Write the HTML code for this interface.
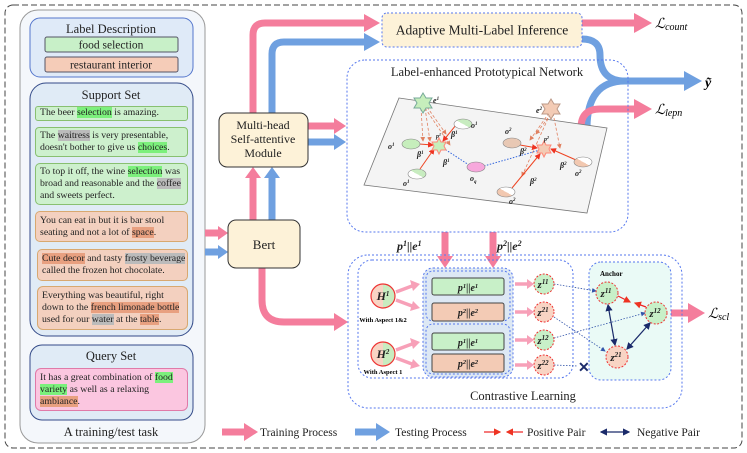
<!DOCTYPE html>
<html><head><meta charset="utf-8"><style>
body{margin:0;background:#fff;font-family:"Liberation Serif","DejaVu Serif",serif;}
svg{display:block;}
svg text{font-family:"Liberation Serif","DejaVu Serif",serif;}
.t{fill:#222}
.m{font-style:italic;font-weight:bold;fill:#222}
.sb{position:absolute;box-sizing:border-box;font-family:"Liberation Serif","DejaVu Serif",serif;font-size:9.8px;line-height:12px;color:#222;padding:1px 4px;white-space:nowrap;border:1px solid;overflow:hidden;}
.g{background:#cdf0cd;border-color:#88c070;}
.o{background:#f3d0bf;border-color:#d8a870;}
.q{background:#fbc6e0;border-color:#e07aa8;}
.hg{background:#7cf07c}.hx{background:#bbb}.ho{background:#e8a080}
</style></head><body>
<div style="position:relative;width:747px;height:453px;">
<svg width="747" height="453" viewBox="0 0 747 453" xmlns="http://www.w3.org/2000/svg" style="position:absolute;left:0;top:0">
<defs>
<marker id="ar" markerWidth="6" markerHeight="6" refX="5" refY="3" orient="auto"><path d="M0,0 L6,3 L0,6z" fill="#ee3322"/></marker>
<marker id="ao" markerWidth="6" markerHeight="6" refX="5" refY="3" orient="auto"><path d="M0,0 L6,3 L0,6z" fill="#e08060"/></marker>
<marker id="an" markerWidth="6" markerHeight="6" refX="5" refY="3" orient="auto"><path d="M0,0 L6,3 L0,6z" fill="#1a2a6a"/></marker>
<marker id="anb" markerWidth="6" markerHeight="6" refX="1" refY="3" orient="auto"><path d="M6,0 L0,3 L6,6z" fill="#1a2a6a"/></marker>
<marker id="ab" markerWidth="6" markerHeight="6" refX="5" refY="3" orient="auto"><path d="M0,0 L6,3 L0,6z" fill="#3355aa"/></marker>
<linearGradient id="gw" x1="0" x2="1" y1="1" y2="0"><stop offset="0.5" stop-color="#fff"/><stop offset="0.5" stop-color="#c8ecc0"/></linearGradient>
<linearGradient id="pw" x1="0" x2="1" y1="1" y2="0"><stop offset="0.5" stop-color="#f2c8b0"/><stop offset="0.5" stop-color="#fff"/></linearGradient>
<linearGradient id="hg" x1="0" x2="1"><stop offset="0.5" stop-color="#f8d4c4"/><stop offset="0.5" stop-color="#c8ecc0"/></linearGradient>
</defs>
<rect x="5" y="5" width="737" height="443" rx="8" fill="none" stroke="#444" stroke-dasharray="6,3"/>
<rect x="20" y="10" width="185" height="433" rx="18" fill="#f4f7fb" stroke="#999"/>
<rect x="30" y="18" width="163" height="59" rx="10" fill="#dfeaf8" stroke="#5577cc"/>
<text x="111" y="33" class="t" text-anchor="middle" font-size="12.5">Label Description</text>
<rect x="45" y="37" width="133" height="15" rx="2" fill="#c8f0c8" stroke="#556"/>
<text x="111" y="48.5" class="t" text-anchor="middle" font-size="11.5">food selection</text>
<rect x="45" y="57" width="133" height="15" rx="2" fill="#f5ccb8" stroke="#556"/>
<text x="111" y="68.5" class="t" text-anchor="middle" font-size="11.5">restaurant interior</text>
<rect x="30" y="83" width="163" height="253" rx="16" fill="#e0ebf6" stroke="#334a88"/>
<text x="111" y="99" class="t" text-anchor="middle" font-size="12.5">Support Set</text>
<rect x="30" y="345" width="163" height="75" rx="12" fill="#e0ebf6" stroke="#334a88"/>
<text x="111" y="360" class="t" text-anchor="middle" font-size="12.5">Query Set</text>
<text x="111" y="436" class="t" text-anchor="middle" font-size="12.5">A training/test task</text>

<g fill="none" stroke-width="7">
<path d="M205,233 H220" stroke="#f47d9c"/><path d="M205,252 H220" stroke="#6fa0e0"/>
<path d="M253,220 V176" stroke="#f47d9c"/><path d="M272,220 V176" stroke="#6fa0e0"/>
<path d="M253,113 V35 Q253,23 265,23 H366" stroke="#f47d9c"/>
<path d="M272,113 V54 Q272,42 284,42 H366" stroke="#6fa0e0"/>
<path d="M308,126 H336" stroke="#f47d9c"/><path d="M308,142 H336" stroke="#6fa0e0"/>
<path d="M262,268 V300 Q262,322 284,322 H336" stroke="#f47d9c"/>
<path d="M582,23 H636" stroke="#f47d9c"/>
<path d="M582,39 Q600,39 600,55 Q600,81 625,81 H686" stroke="#6fa0e0"/>
<path d="M587,128 Q587,81 625,81" stroke="#6fa0e0"/>
<path d="M581,128 Q581,109 600,109 H636" stroke="#f47d9c"/>
<path d="M445,232 V258" stroke="#f47d9c"/><path d="M493,232 V258" stroke="#f47d9c"/>
<path d="M671,313 H690" stroke="#f47d9c"/>
</g>
<g>
<path d="M218,226 L228,233 L218,240z" fill="#f47d9c"/><path d="M218,245 L228,252 L218,259z" fill="#6fa0e0"/>
<path d="M245,178 L253,167 L261,178z" fill="#f47d9c"/><path d="M264,178 L272,167 L280,178z" fill="#6fa0e0"/>
<path d="M364,14 L380,23 L364,32z" fill="#f47d9c"/><path d="M364,33 L380,42 L364,51z" fill="#6fa0e0"/>
<path d="M334,118 L346,126 L334,134z" fill="#f47d9c"/><path d="M334,134 L346,142 L334,150z" fill="#6fa0e0"/>
<path d="M334,313 L348,322 L334,331z" fill="#f47d9c"/>
<path d="M634,13 L652,23 L634,33z" fill="#f47d9c"/>
<path d="M684,71 L702,81 L684,91z" fill="#6fa0e0"/>
<path d="M634,99 L652,109 L634,119z" fill="#f47d9c"/>
<path d="M437,256 L445,268 L453,256z" fill="#f47d9c"/><path d="M485,256 L493,268 L501,256z" fill="#f47d9c"/>
<path d="M688,303 L705,313 L688,323z" fill="#f47d9c"/>
</g>
<rect x="228" y="220" width="72" height="48" rx="8" fill="#fdf2d8" stroke="#333"/>
<text x="264" y="249" class="t" text-anchor="middle" font-size="13">Bert</text>
<rect x="219" y="113" width="89" height="54" rx="8" fill="#fdf2d8" stroke="#333"/>
<text x="263" y="129" class="t" text-anchor="middle" font-size="12">Multi-head</text>
<text x="263" y="143" class="t" text-anchor="middle" font-size="12">Self-attentive</text>
<text x="263" y="157" class="t" text-anchor="middle" font-size="12">Module</text>
<rect x="382" y="13" width="200" height="34" rx="5" fill="#fdf2d8" stroke="#5577ee" stroke-dasharray="2,2"/>
<text x="482" y="34.5" class="t" text-anchor="middle" font-size="13.5">Adaptive Multi-Label Inference</text>
<text x="655" y="28" font-size="14" font-style="italic">ℒ<tspan font-size="10" dy="2">count</tspan></text>
<text x="705" y="87" font-size="14" font-style="italic" font-weight="bold">ỹ</text>
<text x="655" y="114" font-size="14" font-style="italic">ℒ<tspan font-size="10" dy="2">lepn</tspan></text>
<text x="708" y="318" font-size="14" font-style="italic">ℒ<tspan font-size="10" dy="2">scl</tspan></text>
<rect x="347" y="60" width="281" height="172" rx="18" fill="none" stroke="#5577ee" stroke-dasharray="2,2"/>
<text x="487" y="76" class="t" text-anchor="middle" font-size="12.6">Label-enhanced Prototypical Network</text>
<polygon points="399,98 607,128 587,213 364,185" fill="#f4f4f4" stroke="#777" stroke-width="0.8"/>
<g stroke="#e08060" stroke-width="0.8" stroke-dasharray="3,2" fill="none" marker-end="url(#ao)">
<path d="M421,108 L423,141"/><path d="M425,108 L430,141"/><path d="M427,107 L446,134"/><path d="M425,108 L450,145"/>
<path d="M549,113 L530,140"/><path d="M550,114 L522,176"/><path d="M553,113 L560,148"/><path d="M551,114 L536,134"/>
</g>
<g stroke="#ee4422" stroke-width="1" fill="none" marker-end="url(#ar)">
<path d="M419,144 L433,145"/><path d="M420,169 L434,149"/><path d="M456,125 L443,141"/>
<path d="M520,145 L537,148"/><path d="M512,188 L540,154"/><path d="M576,160 L551,149"/>
</g>
<g stroke="#3366dd" stroke-width="1" stroke-dasharray="1.5,1.5" fill="none">
<path d="M443,148 L469,165"/><path d="M484,166 L540,150"/>
</g>
<path d="M423,93 l3,5 6,0 -3,5 3,5 -6,0 -3,5 -3,-5 -6,0 3,-5 -3,-5 6,0z" fill="#c6eebc" stroke="#7a9"/>
<path d="M551,99 l3,5 6,0 -3,5 3,5 -6,0 -3,5 -3,-5 -6,0 3,-5 -3,-5 6,0z" fill="#f3cbb5" stroke="#b98"/>
<path d="M439,138 l2,4 5,0 -2,4 2,4 -5,0 -2,4 -2,-4 -5,0 2,-4 -2,-4 5,0z" fill="#c6eebc" stroke="#f87"/>
<path d="M544,141 l2,4 5,0 -2,4 2,4 -5,0 -2,4 -2,-4 -5,0 2,-4 -2,-4 5,0z" fill="#f3cbb5" stroke="#f87"/>
<g stroke="#888" stroke-width="0.6">
<ellipse cx="411" cy="144" rx="9" ry="5" fill="#c6eebc"/>
<ellipse cx="417" cy="174" rx="9" ry="5" fill="url(#gw)"/>
<ellipse cx="463" cy="124" rx="9" ry="5" fill="url(#gw)"/>
<ellipse cx="476" cy="167" rx="9" ry="5" fill="#f7a8dc"/>
<ellipse cx="512" cy="143" rx="9" ry="5" fill="#e8c8b4"/>
<ellipse cx="506" cy="192" rx="9" ry="5" fill="url(#pw)"/>
<ellipse cx="583" cy="162" rx="9" ry="5" fill="url(#pw)"/>
</g>
<g class="m" font-size="8">
<text x="433" y="103">e<tspan font-size="5" dy="-3">1</tspan></text>
<text x="536" y="113">e<tspan font-size="5" dy="-3">2</tspan></text>
<text x="436" y="138" font-size="6">p<tspan font-size="4" dy="-2">1</tspan></text>
<text x="544" y="141" font-size="6">p<tspan font-size="4" dy="-2">2</tspan></text>
<text x="388" y="149">o<tspan font-size="5" dy="-3">1</tspan></text>
<text x="403" y="186">o<tspan font-size="5" dy="-3">1</tspan></text>
<text x="471" y="128">o<tspan font-size="5" dy="-3">1</tspan></text>
<text x="470" y="181">o<tspan font-size="5" dy="2">q</tspan></text>
<text x="505" y="134">o<tspan font-size="5" dy="-3">2</tspan></text>
<text x="509" y="204">o<tspan font-size="5" dy="-3">2</tspan></text>
<text x="575" y="176">o<tspan font-size="5" dy="-3">2</tspan></text>
<text x="417" y="157">β<tspan font-size="5" dy="-3">1</tspan></text>
<text x="443" y="165">β<tspan font-size="5" dy="-3">1</tspan></text>
<text x="451" y="137">β<tspan font-size="5" dy="-3">1</tspan></text>
<text x="520" y="154">β<tspan font-size="5" dy="-3">2</tspan></text>
<text x="530" y="184">β<tspan font-size="5" dy="-3">2</tspan></text>
<text x="560" y="168">β<tspan font-size="5" dy="-3">2</tspan></text>
</g>
<text x="397" y="250" class="m" font-size="12">p<tspan font-size="8" dy="-4">1</tspan><tspan dy="4">||e</tspan><tspan font-size="8" dy="-4">1</tspan></text>
<text x="497" y="250" class="m" font-size="12">p<tspan font-size="8" dy="-4">2</tspan><tspan dy="4">||e</tspan><tspan font-size="8" dy="-4">2</tspan></text>
<rect x="348" y="255" width="334" height="153" rx="20" fill="none" stroke="#5577ee" stroke-dasharray="2,2"/>
<rect x="358" y="260" width="215" height="118" rx="14" fill="none" stroke="#5577ee" stroke-dasharray="2,2"/>
<rect x="589" y="262" width="82" height="118" rx="12" fill="#eafaf6" stroke="#5577ee" stroke-dasharray="2,2"/>
<text x="600" y="276" font-size="7" font-weight="bold">Anchor</text>
<text x="523" y="400" class="t" text-anchor="middle" font-size="12.5">Contrastive Learning</text>
<rect x="423" y="268" width="90" height="109" rx="10" fill="#dde8f4" stroke="#5577ee" stroke-dasharray="2,2"/>
<rect x="426" y="271" width="84" height="50" rx="7" fill="none" stroke="#5577ee" stroke-dasharray="2,2"/>
<rect x="426" y="324" width="84" height="50" rx="7" fill="none" stroke="#5577ee" stroke-dasharray="2,2"/>
<g stroke="#444">
<rect x="432" y="278" width="72" height="17" rx="2" fill="#c8f0c8"/>
<rect x="432" y="303" width="72" height="18" rx="2" fill="#f3cbb5"/>
<rect x="432" y="333" width="72" height="17" rx="2" fill="#c8f0c8"/>
<rect x="432" y="354" width="72" height="18" rx="2" fill="#f3cbb5"/>
</g>
<g class="m" font-size="10" text-anchor="middle">
<text x="468" y="291">p<tspan font-size="6.5" dy="-3">1</tspan><tspan dy="3">||e</tspan><tspan font-size="6.5" dy="-3">1</tspan></text>
<text x="468" y="316">p<tspan font-size="6.5" dy="-3">2</tspan><tspan dy="3">||e</tspan><tspan font-size="6.5" dy="-3">2</tspan></text>
<text x="468" y="346">p<tspan font-size="6.5" dy="-3">1</tspan><tspan dy="3">||e</tspan><tspan font-size="6.5" dy="-3">1</tspan></text>
<text x="468" y="367">p<tspan font-size="6.5" dy="-3">2</tspan><tspan dy="3">||e</tspan><tspan font-size="6.5" dy="-3">2</tspan></text>
</g>
<circle cx="383" cy="296" r="12" fill="url(#hg)" stroke="#e33" stroke-width="1.2"/>
<circle cx="383" cy="354" r="12" fill="url(#hg)" stroke="#e33" stroke-width="1.2"/>
<text x="383" y="300" class="m" text-anchor="middle" font-size="12">H<tspan font-size="7" dy="-4">1</tspan></text>
<text x="383" y="358" class="m" text-anchor="middle" font-size="12">H<tspan font-size="7" dy="-4">2</tspan></text>
<text x="383" y="322" text-anchor="middle" font-size="6.5" font-weight="bold">With Aspect 1&amp;2</text>
<text x="383" y="374" text-anchor="middle" font-size="6.5" font-weight="bold">With Aspect 1</text>
<g stroke="#f7a0b8" stroke-width="3.5">
<path d="M396,292 L412,286"/><path d="M396,300 L412,306"/><path d="M396,350 L412,344"/><path d="M396,358 L412,364"/>
<path d="M515,284 L528,284"/><path d="M515,312 L528,312"/><path d="M515,340 L528,340"/><path d="M515,365 L528,365"/>
</g>
<g fill="#f7a0b8">
<path d="M410,280 L420,284 L413,291z"/><path d="M413,301 L420,308 L410,311z"/><path d="M410,338 L420,342 L413,349z"/><path d="M413,359 L420,366 L410,369z"/>
<path d="M527,279 L534,284 L527,289z"/><path d="M527,307 L534,312 L527,317z"/><path d="M527,335 L534,340 L527,345z"/><path d="M527,360 L534,365 L527,370z"/>
</g>
<g stroke="#3355aa" stroke-width="0.8" stroke-dasharray="1.5,1.5" fill="none">
<path d="M554,284 L596,291" marker-end="url(#ab)"/>
<path d="M554,317 L605,351" marker-end="url(#ab)"/>
<path d="M554,338 L645,313" marker-end="url(#ab)"/>
<path d="M554,365 L578,366"/>
</g>
<g stroke="#ee2222" stroke-width="1.2" fill="none">
<path d="M618,296 L630,302" marker-end="url(#ar)"/><path d="M646,307 L635,303" marker-end="url(#ar)"/>
</g>
<g stroke="#1a2a6a" stroke-width="1.2" fill="none" marker-end="url(#an)" marker-start="url(#anb)">
<path d="M608,305 L615,345"/><path d="M650,323 L627,349"/>
</g>
<text x="578" y="372" font-size="14" font-weight="bold" fill="#1a2a6a">✕</text>
<g stroke="#e33" stroke-dasharray="2,1.5" stroke-width="1">
<circle cx="544" cy="284" r="10" fill="#c8f0c8"/><circle cx="544" cy="312" r="10" fill="#f8d4c4"/>
<circle cx="544" cy="340" r="10" fill="#c8f0c8"/><circle cx="544" cy="365" r="10" fill="#f8d4c4"/>
<circle cx="607" cy="293" r="11" fill="#c8f0c8"/><circle cx="656" cy="313" r="11" fill="#c8f0c8"/><circle cx="617" cy="357" r="11" fill="#f8d4c4"/>
</g>
<g class="m" font-size="11" text-anchor="middle">
<text x="543" y="288">z<tspan font-size="7" dy="-4">11</tspan></text><text x="543" y="316">z<tspan font-size="7" dy="-4">21</tspan></text>
<text x="543" y="344">z<tspan font-size="7" dy="-4">12</tspan></text><text x="543" y="369">z<tspan font-size="7" dy="-4">22</tspan></text>
<text x="606" y="297">z<tspan font-size="7" dy="-4">11</tspan></text><text x="655" y="317">z<tspan font-size="7" dy="-4">12</tspan></text>
<text x="616" y="361">z<tspan font-size="7" dy="-4">21</tspan></text>
</g>
<path d="M222,432 H246" stroke="#f47d9c" stroke-width="7"/><path d="M244,423 L258,432 L244,441z" fill="#f47d9c"/>
<text x="260" y="436" class="t" font-size="11.5">Training Process</text>
<path d="M355,432 H378" stroke="#6fa0e0" stroke-width="7"/><path d="M376,423 L390,432 L376,441z" fill="#6fa0e0"/>
<text x="395" y="436" class="t" font-size="11.5">Testing Process</text>
<path d="M484,432 H500" stroke="#e22" stroke-width="1.2" marker-end="url(#ar)"/><path d="M523,432 H507" stroke="#e22" stroke-width="1.2" marker-end="url(#ar)"/>
<text x="527" y="436" class="t" font-size="11.5">Positive Pair</text>
<path d="M601,432 H629" stroke="#1a2a6a" stroke-width="1.2" marker-end="url(#an)" marker-start="url(#anb)"/>
<text x="637" y="436" class="t" font-size="11.5">Negative Pair</text>
</svg>
<div class="sb g" style="left:35px;top:106px;width:153px;height:15px;border-radius:3px;padding-top:0">The beer <span class="hg">selection</span> is amazing.</div>
<div class="sb g" style="left:35px;top:127px;width:153px;height:30px;border-radius:4px;padding-top:2px">The <span class="hx">waitress</span> is very presentable,<br>doesn't bother to give us <span class="hg">choices</span>.</div>
<div class="sb g" style="left:35px;top:163px;width:153px;height:42px;border-radius:5px;padding-top:2px">To top it off, the wine <span class="hg">selection</span> was<br>broad and reasonable and the <span class="hx">coffee</span><br>and sweets perfect.</div>
<div class="sb o" style="left:35px;top:211px;width:153px;height:31px;border-radius:5px;padding-top:3px">You can eat in but it is bar stool<br>seating and not a lot of <span class="ho">space</span>.</div>
<div class="sb o" style="left:37px;top:249px;width:151px;height:32px;border-radius:5px;padding-top:3px"><span class="ho">Cute decor</span> and tasty <span class="hx">frosty beverage</span><br>called the frozen hot chocolate.</div>
<div class="sb o" style="left:37px;top:286px;width:151px;height:44px;border-radius:6px;padding-top:3px">Everything was beautiful, right<br>down to the <span class="ho">french limonade bottle</span><br>used for our <span class="hx">water</span> at the <span class="ho">table</span>.</div>
<div class="sb q" style="left:35px;top:368px;width:153px;height:43px;border-radius:6px;padding-top:3px">It has a great combination of <span class="hg">food</span><br><span class="hg">variety</span> as well as a relaxing<br><span class="ho">ambiance</span>.</div>
</div>
</body></html>
